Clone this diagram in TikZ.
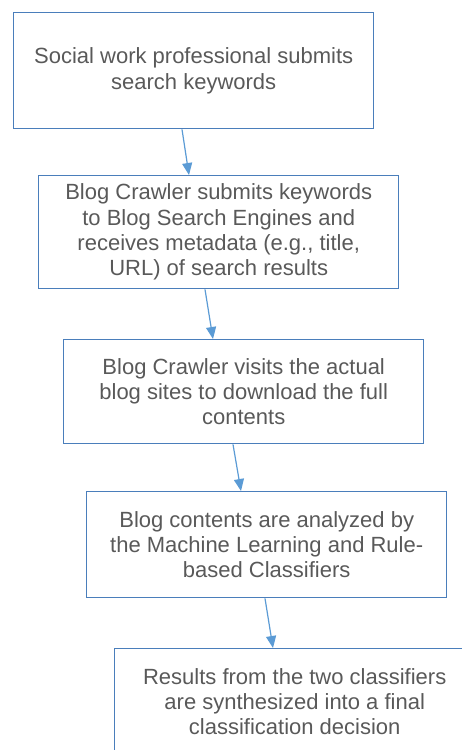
\documentclass[tikz,border=0pt]{standalone}
\usepackage{fontspec}
\setmainfont{Liberation Sans}
\usetikzlibrary{arrows.meta}
\definecolor{boxline}{HTML}{4A7EBB}
\definecolor{arrowline}{HTML}{5B9BD5}
\definecolor{textgray}{HTML}{595959}
\tikzset{
  stepbox/.style={draw=boxline, line width=1.4pt, rectangle, anchor=north west,
    minimum width=360pt, align=center, text=textgray, inner sep=0pt,
    font=\fontsize{22}{25.3}\selectfont},
  flow/.style={draw=arrowline, line width=1.2pt,
    -{Triangle[width=10pt,length=12pt]}}
}
\begin{document}
\begin{tikzpicture}[x=1pt,y=-1pt]
  \useasboundingbox (0,0) rectangle (462,750);
  \clip (0,0) rectangle (462,750);
  \node[stepbox, minimum height=116pt] (b1) at (13,12)
    {Social work professional submits\\search keywords};
  \node[stepbox, minimum height=113pt] (b2) at (38,175)
    {Blog Crawler submits keywords\\to Blog Search Engines and\\receives metadata (e.g., title,\\URL) of search results};
  \node[stepbox, minimum height=104pt] (b3) at (63,339)
    {Blog Crawler visits the actual\\blog sites to download the full\\contents};
  \node[stepbox, minimum height=106pt] (b4) at (86,491)
    {Blog contents are analyzed by\\the Machine Learning and Rule-\\based Classifiers};
  \node[stepbox, minimum height=106pt] (b5) at (114,648)
    {Results from the two classifiers\\are synthesized into a final\\classification decision};
  \draw[flow] ([xshift=169pt]b1.south west) -- ([xshift=151pt]b2.north west);
  \draw[flow] ([xshift=167pt]b2.south west) -- ([xshift=150pt]b3.north west);
  \draw[flow] ([xshift=170pt]b3.south west) -- ([xshift=155pt]b4.north west);
  \draw[flow] ([xshift=179pt]b4.south west) -- ([xshift=159pt]b5.north west);
\end{tikzpicture}
\end{document}
